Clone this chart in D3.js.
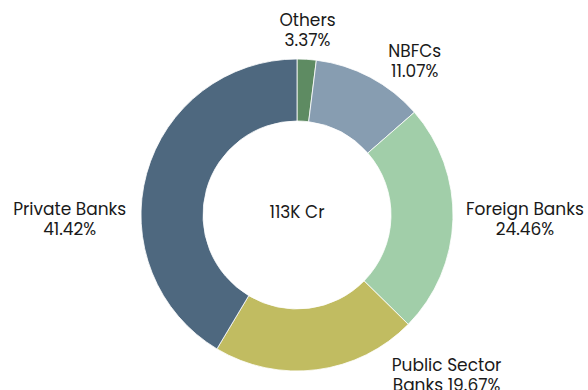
<!DOCTYPE html>
<html><head><meta charset="utf-8">
<script src="https://cdn.jsdelivr.net/npm/d3@7"></script>
<style>body{margin:0;background:#fff}svg{display:block}</style>
</head><body>
<svg id="chart" width="588" height="390"></svg>
<script>
const categories = ["Others", "NBFCs", "Foreign Banks", "Public Sector Banks", "Private Banks"];
// slice sizes as drawn (share of the ring, %)
const values = [1.98, 11.58, 23.80, 21.22, 41.42];
// percentages printed in the labels
const pctLabels = ["3.37%", "11.07%", "24.46%", "19.67%", "41.42%"];
const labelLines = [["Others", "3.37%"], ["NBFCs", "11.07%"], ["Foreign Banks", "24.46%"], ["Public Sector", "Banks 19.67%"], ["Private Banks", "41.42%"]];
const centerText = "113K Cr";

const colors = ["#5e8b62", "#879db1", "#a1cea9", "#c1bc61", "#4e687f"];
const labelNudge = [[-1, 0], [31, 9], [43, -1], [126, -23], [-49, 53]];

const W = 588, H = 390, cx = 297, cy = 215, outerR = 156, innerR = 94, labelR = 185;
const FONT = "Poppins, 'Open Sans', sans-serif";

const svg = d3.select("#chart");
const g = svg.append("g").attr("transform", `translate(${cx},${cy})`);

const pie = d3.pie().sort(null).value(d => d)(values);
const arc = d3.arc().innerRadius(innerR).outerRadius(outerR);

g.selectAll("path.slice").data(pie).join("path")
  .attr("class", "slice")
  .attr("d", arc)
  .attr("fill", (d, i) => colors[i])
  .attr("stroke", "#fff")
  .attr("stroke-width", 0.8);

const lab = g.selectAll("text.lab").data(pie).join("text")
  .attr("class", "lab")
  .attr("font-family", FONT)
  .attr("font-size", 17)
  .attr("fill", "#1a1a1a")
  .attr("text-anchor", "middle")
  .attr("transform", (d, i) => {
    const a = (d.startAngle + d.endAngle) / 2;
    const x = labelR * Math.sin(a) + labelNudge[i][0];
    const y = -labelR * Math.cos(a) + labelNudge[i][1];
    return `translate(${x},${y})`;
  });
lab.each(function(d, i) {
  const t = d3.select(this);
  labelLines[i].forEach((s, k) => {
    t.append("tspan").attr("x", 0).attr("y", -4 + k * 20).text(s);
  });
});

g.append("text")
  .attr("font-family", FONT)
  .attr("font-size", 17)
  .attr("fill", "#1a1a1a")
  .attr("text-anchor", "middle")
  .attr("y", 3)
  .text(centerText);
</script>
</body></html>
